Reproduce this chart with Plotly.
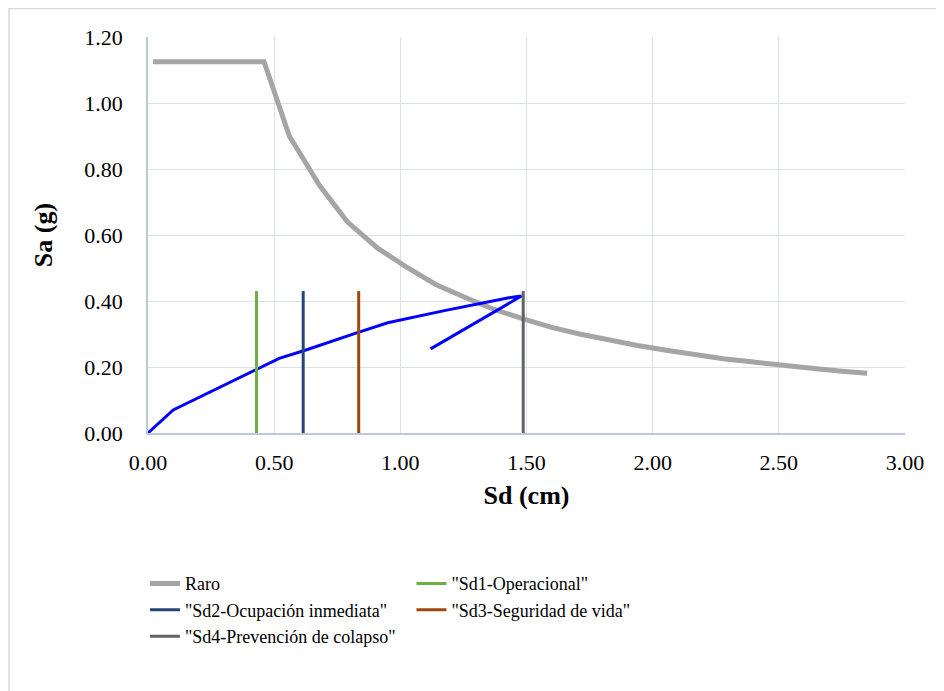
import plotly.graph_objects as go

# Demand spectrum "Raro"
raro_sd = [0.02, 0.46, 0.56, 0.68, 0.79, 0.91, 1.03, 1.14, 1.26, 1.37, 1.49, 1.60,
           1.71, 1.83, 1.94, 2.06, 2.17, 2.28, 2.40, 2.51, 2.63, 2.74, 2.85]
raro_sa = [1.125, 1.125, 0.90, 0.75, 0.64, 0.56, 0.50, 0.45, 0.41, 0.375, 0.345, 0.32,
           0.30, 0.28, 0.265, 0.25, 0.237, 0.225, 0.215, 0.205, 0.196, 0.188, 0.181]

# Capacity curve
cap_sd = [0.0, 0.10, 0.52, 0.62, 0.83, 0.95, 1.17, 1.43, 1.48, 1.12]
cap_sa = [0.0, 0.07, 0.226, 0.25, 0.304, 0.334, 0.37, 0.41, 0.415, 0.255]

# Performance points
perf_names = ['"Sd1-Operacional"', '"Sd2-Ocupación inmediata"',
              '"Sd3-Seguridad de vida"', '"Sd4-Prevención de colapso"']
perf_sd = [0.43, 0.615, 0.835, 1.487]
perf_top = 0.43
perf_colors = ["#70AD47", "#264478", "#9E480E", "#636363"]
perf_legend = ["legend2", "legend", "legend2", "legend"]

fig = go.Figure()
fig.add_trace(go.Scatter(x=raro_sd, y=raro_sa, mode="lines", name="Raro",
                         legend="legend",
                         line=dict(color="#A5A5A5", width=5)))
fig.add_trace(go.Scatter(x=cap_sd, y=cap_sa, mode="lines", showlegend=False,
                         line=dict(color="#0000FF", width=3)))
for n, sd, c, lg in zip(perf_names, perf_sd, perf_colors, perf_legend):
    fig.add_trace(go.Scatter(x=[sd, sd], y=[0, perf_top], mode="lines", name=n,
                             legend=lg, line=dict(color=c, width=3)))

font = "Liberation Serif"
leg_common = dict(orientation="v", yanchor="top", xanchor="left", tracegroupgap=0,
                  font=dict(size=18, family=font), itemwidth=30,
                  bgcolor="rgba(0,0,0,0)", borderwidth=0)
# page has an 8px body margin, so the figure is a bit smaller than the window
fig.update_layout(
    width=936, height=683,
    margin=dict(l=140, r=39, t=29, b=258),
    paper_bgcolor="white", plot_bgcolor="white",
    font=dict(family=font, size=19, color="black"),
    xaxis=dict(range=[0, 3], dtick=0.5, tickformat=".2f", showgrid=True,
               gridcolor="#DCE1EA", gridwidth=1.3, showline=True, linecolor="#BFC8DA",
               linewidth=1.5, zeroline=False, ticks="outside", ticklen=9,
               tickcolor="rgba(0,0,0,0)",
               title=dict(text="<b>Sd (cm)</b>", font=dict(size=26, family=font), standoff=12),
               tickfont=dict(size=22, family=font)),
    yaxis=dict(range=[0, 1.2], dtick=0.2, tickformat=".2f", showgrid=True,
               gridcolor="#DCE1EA", gridwidth=1.3, showline=True, linecolor="#BFC8DA",
               linewidth=1.5, zeroline=False, ticks="outside", ticklen=19,
               tickcolor="rgba(0,0,0,0)",
               title=dict(text="<b>Sa (g)</b>", font=dict(size=26, family=font), standoff=24),
               tickfont=dict(size=22, family=font)),
    legend=dict(x=-0.004, y=-0.334, **leg_common),
    legend2=dict(x=0.348, y=-0.334, **leg_common),
    showlegend=True,
)
fig.add_shape(type="rect", xref="paper", yref="paper",
              x0=(1 - 140) / 757, x1=1.2, y0=-1.0, y1=1 + 28.5 / 396,
              line=dict(color="#D9D9D9", width=1.5), layer="below")
fig.write_html("out.html")
